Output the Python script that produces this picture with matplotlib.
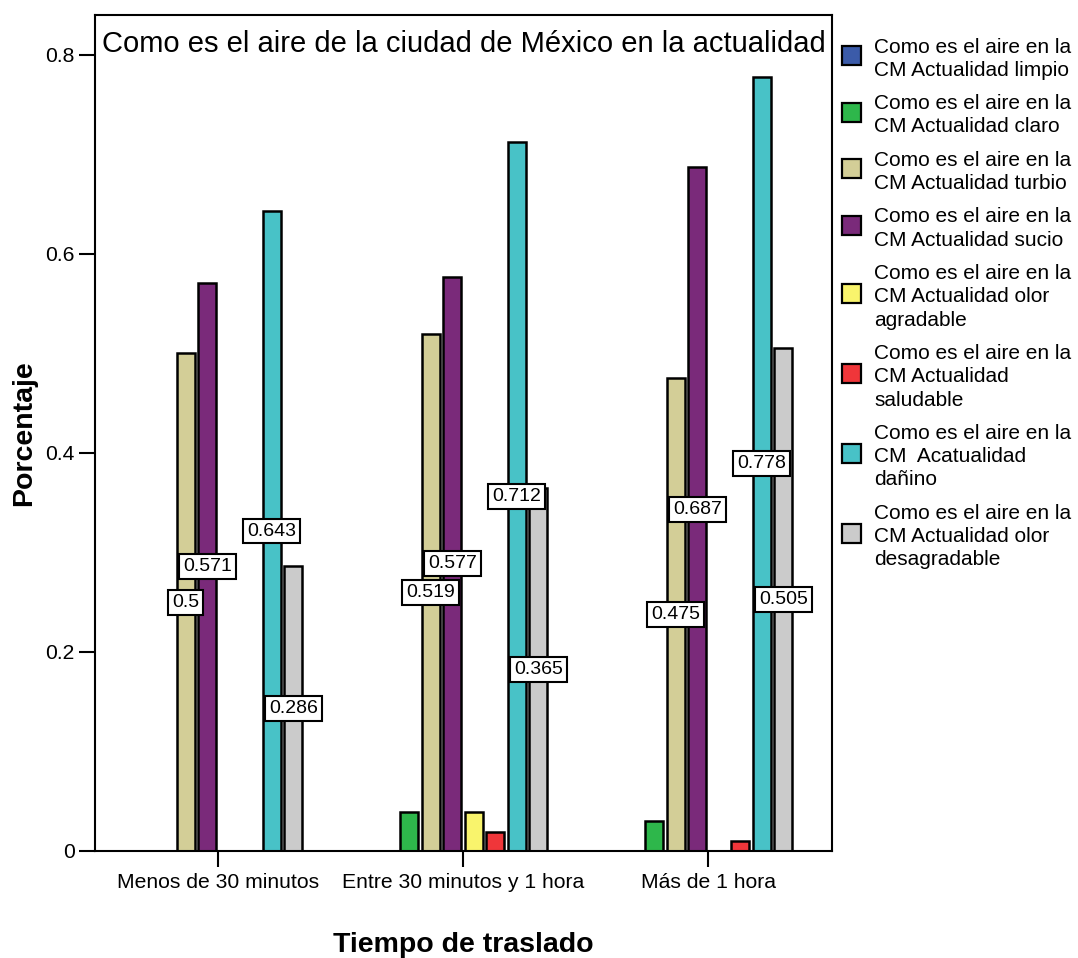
import matplotlib
matplotlib.use("Agg")
import matplotlib.pyplot as plt
from matplotlib.patches import Rectangle

plt.rcParams['font.family'] = ['Liberation Sans', 'DejaVu Sans']

# ---- data ----
categories = ["Menos de 30 minutos", "Entre 30 minutos y 1 hora", "Más de 1 hora"]

series_labels = [
    "Como es el aire en la\nCM Actualidad limpio",
    "Como es el aire en la\nCM Actualidad claro",
    "Como es el aire en la\nCM Actualidad turbio",
    "Como es el aire en la\nCM Actualidad sucio",
    "Como es el aire en la\nCM Actualidad olor\nagradable",
    "Como es el aire en la\nCM Actualidad\nsaludable",
    "Como es el aire en la\nCM  Acatualidad\ndañino",
    "Como es el aire en la\nCM Actualidad olor\ndesagradable",
]

limpio = [0.0, 0.0, 0.0]
claro = [0.0, 0.039, 0.030]
turbio = [0.5, 0.519, 0.475]
sucio = [0.571, 0.577, 0.687]
agradable = [0.0, 0.039, 0.0]
saludable = [0.0, 0.019, 0.010]
danino = [0.643, 0.712, 0.778]
desagradable = [0.286, 0.365, 0.505]

series_values = [limpio, claro, turbio, sucio, agradable, saludable, danino, desagradable]

colors = ["#3b5ba9", "#2eb74b", "#d3ce97", "#7a2a7a",
          "#f9f46c", "#f0363a", "#48c2c7", "#cbcbcb"]

yticks = [0, 0.2, 0.4, 0.6, 0.8]
ytick_labels = ["0", "0.2", "0.4", "0.6", "0.8"]

title = "Como es el aire de la ciudad de México en la actualidad"
xlabel = "Tiempo de traslado"
ylabel = "Porcentaje"

# ---- figure layout (pixel based) ----
W, H = 1078, 958
fig = plt.figure(figsize=(W / 100, H / 100), dpi=100)

ax_l, ax_r, ax_t, ax_b = 95, 832, 15, 851
ax = fig.add_axes([ax_l / W, (H - ax_b) / H, (ax_r - ax_l) / W, (ax_b - ax_t) / H])

stride = 0.0878
width = 0.0735
n = len(series_values)

for i, (vals, col) in enumerate(zip(series_values, colors)):
    off = (i - (n - 1) / 2) * stride
    for g, v in enumerate(vals):
        if v <= 0:
            continue
        ax.bar(g + off, v, width=width, color=col, edgecolor="black",
               linewidth=1.8, zorder=2)

# value labels at mid-height of each sizeable bar
for i, vals in enumerate(series_values):
    off = (i - (n - 1) / 2) * stride
    for g, v in enumerate(vals):
        if v < 0.1:
            continue
        ax.text(g + off, v / 2, f"{v:g}", ha="center", va="center",
                fontsize=14, zorder=5,
                bbox=dict(boxstyle="square,pad=0.2", facecolor="white",
                          edgecolor="black", linewidth=1.5))

ax.set_xlim(-0.502, 2.506)
ax.set_ylim(0, 0.840)
ax.set_xticks(range(len(categories)), categories)
ax.set_yticks(yticks, ytick_labels)
ax.tick_params(axis="both", direction="out", length=11.5, width=1.5,
               labelsize=15.2, colors="black")
ax.tick_params(axis="x", pad=4)
ax.tick_params(axis="y", pad=3)
for s in ax.spines.values():
    s.set_linewidth(1.5)

ax.text(0.5, (ax_b - 52) / (ax_b - ax_t), title, transform=ax.transAxes,
        ha="center", va="baseline", fontsize=21)

fig.text(463 / W, 1 - 952 / H, xlabel, ha="center", va="baseline",
         fontsize=20.5, fontweight="bold")
fig.text(24 / W, 1 - 433 / H, ylabel, ha="center", va="center",
         rotation=90, fontsize=20.5, fontweight="bold")

# ---- legend drawn at right ----
line_h = 23.3
gap = 10.0
y_center = 45.0
for lab, col in zip(series_labels, colors):
    lines = lab.split("\n")
    centers = [y_center + k * line_h for k in range(len(lines))]
    for c, txt in zip(centers, lines):
        fig.text(874 / W, 1 - (c + 7.6) / H, txt, ha="left", va="baseline",
                 fontsize=15)
    mid = sum(centers) / len(centers) - 1
    size = 19
    fig.patches.append(Rectangle((842 / W, 1 - (mid + size / 2) / H),
                                 size / W, size / H, transform=fig.transFigure,
                                 facecolor=col, edgecolor="black",
                                 linewidth=1.6))
    y_center += len(lines) * line_h + gap

fig.savefig("out.png", dpi=100)
